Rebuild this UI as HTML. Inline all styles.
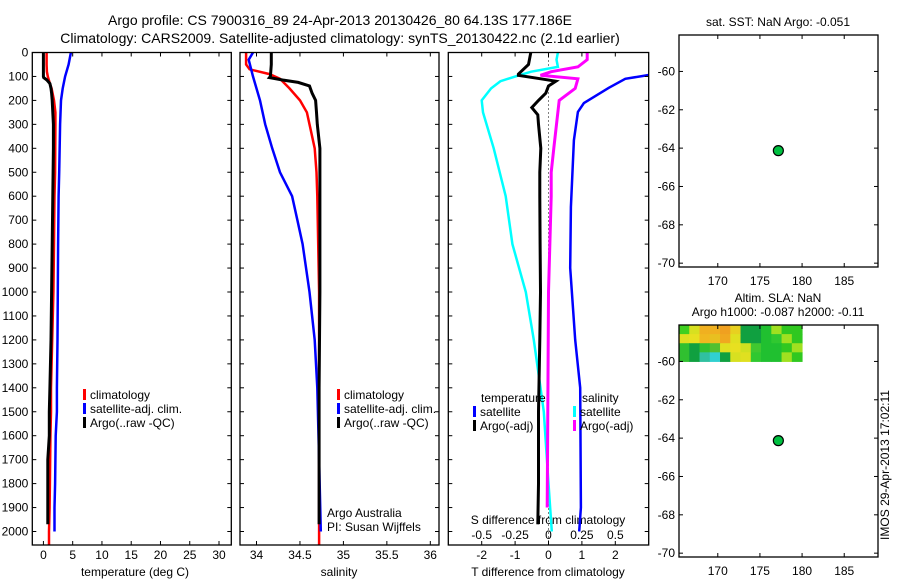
<!DOCTYPE html>
<html><head><meta charset="utf-8">
<style>
html,body{margin:0;padding:0;background:#fff;}
svg{display:block;font-family:"Liberation Sans",sans-serif;}
text{fill:#000;}
</style></head>
<body>
<svg id="c" width="900" height="580" viewBox="0 0 900 580" xmlns="http://www.w3.org/2000/svg">
<text x="340" y="25" font-size="14" text-anchor="middle">Argo profile: CS 7900316_89 24-Apr-2013 20130426_80 64.13S 177.186E</text>
<text x="340" y="43" font-size="14" text-anchor="middle">Climatology: CARS2009. Satellite-adjusted climatology: synTS_20130422.nc (2.1d earlier)</text>
<text x="135" y="576" font-size="12" text-anchor="middle">temperature (deg C)</text>
<text x="339" y="576" font-size="12" text-anchor="middle">salinity</text>
<text x="548" y="576" font-size="12" text-anchor="middle">T difference from climatology</text>
<text x="548" y="524" font-size="12" text-anchor="middle">S difference from climatology</text>
<text x="327" y="517" font-size="12">Argo Australia</text>
<text x="327" y="531" font-size="12">PI: Susan Wijffels</text>
<text x="778" y="26" font-size="12" text-anchor="middle">sat. SST: NaN Argo: -0.051</text>
<text x="778" y="302" font-size="12" text-anchor="middle">Altim. SLA: NaN</text>
<text x="778" y="316" font-size="12" text-anchor="middle">Argo h1000: -0.087 h2000: -0.11</text>
<text transform="translate(889,465) rotate(-90)" font-size="12" text-anchor="middle">IMOS 29-Apr-2013 17:02:11</text>
</svg>
<script>
// ---- data ----
const depthTicks=[0,100,200,300,400,500,600,700,800,900,1000,1100,1200,1300,1400,1500,1600,1700,1800,1900,2000];
const tTicks=[0,5,10,15,20,25,30];
const sTicks=[34,34.5,35,35.5,36];
const sTickLabels=["34","34.5","35","35.5","36"];
const dTTicks=[-2,-1,0,1,2];
const dSTicks=[-0.5,-0.25,0,0.25,0.5];
const dSTickLabels=["-0.5","-0.25","0","0.25","0.5"];
const lonTicks=[170,175,180,185];
const latTicks=[-60,-62,-64,-66,-68,-70];

const argoTDepth=[0,50,100,105,115,130,150,170,200,300,400,600,800,1000,1200,1400,1500,1600,1700,1800,1900,1970];
const argoT=[0,0,0,0.05,0.6,1.1,1.3,1.4,1.5,1.7,1.7,1.6,1.5,1.4,1.3,1.1,1.0,1.0,0.75,0.75,0.75,0.75];
const climTDepth=[0,50,80,100,130,150,200,250,300,500,600,800,1000,1200,1400,1500,1600,1800,1900,2000,2056];
const climT=[0.55,0.55,0.6,0.75,1.1,1.4,1.8,2.05,2.05,2.0,1.9,1.8,1.7,1.5,1.3,1.3,1.2,1.1,1.05,0.95,0.95];
const satTDepth=[0,50,100,150,200,300,500,600,800,1000,1200,1400,1500,1600,1800,1900,2000];
const satT=[4.7,4.3,3.7,3.3,3.0,2.85,2.7,2.6,2.5,2.45,2.4,2.3,2.3,2.1,2.0,1.9,1.9];

const argoSDepth=[0,50,100,105,115,125,140,170,200,250,300,400,600,800,1000,1400,1800,1970];
const argoS=[34.17,34.17,34.16,34.15,34.3,34.48,34.61,34.64,34.68,34.69,34.7,34.73,34.73,34.73,34.73,34.72,34.72,34.72];
const climSDepth=[0,50,70,90,110,150,200,250,300,400,500,600,800,1000,1400,2000,2056];
const climS=[33.88,33.88,33.92,34.15,34.27,34.38,34.5,34.58,34.61,34.67,34.69,34.7,34.71,34.72,34.72,34.72,34.72];
const satSDepth=[0,30,100,200,300,400,500,600,700,800,1000,1200,1400,1700,2000];
const satS=[33.96,33.91,33.96,34.04,34.1,34.18,34.27,34.41,34.47,34.53,34.61,34.67,34.7,34.72,34.74];

const dArgoTDepth=[0,50,90,95,110,120,140,170,200,230,260,300,400,500,600,800,1000,1200,1500,1800,1970];
const dArgoT=[-0.53,-0.6,-0.9,-0.9,-0.23,0.22,0,-0.08,-0.3,-0.5,-0.32,-0.3,-0.23,-0.26,-0.26,-0.25,-0.24,-0.26,-0.3,-0.3,-0.32];
const dSatTDepth=[60,94,110,148,211,248,366,645,900,1200,1400,1900,2000];
const dSatT=[3.6,3.0,2.3,1.8,1.06,0.88,0.76,0.67,0.65,0.8,0.95,0.97,0.92];
const dArgoSDepth=[0,30,60,80,95,110,150,200,300,400,500,600,1000,1500,1900];
const dArgoS=[0.29,0.29,0.22,0.02,-0.06,0.22,0.2,0.08,0.06,0.04,0.02,0.02,0.0,-0.005,-0.01];
const dSatSDepth=[0,30,60,80,95,120,150,200,250,400,600,800,1000,1200,1400,1500,1800,2000];
const dSatS=[0.07,0.06,0.07,-0.13,-0.22,-0.36,-0.43,-0.5,-0.49,-0.41,-0.32,-0.27,-0.17,-0.11,-0.06,-0.035,0.0,0.025];

const floatLon=[177.186];
const floatLat=[-64.13];
const slaRows=[
 ["#40d020","#d8e020","#f0b020","#f0b020","#f0a020","#e8d020","#10a040","#10a040","#20c030","#a0e020","#30c820","#30c820"],
 ["#e0e020","#e8e020","#f0b820","#e8c020","#f0a820","#e0e020","#10a040","#10a040","#20c030","#30c830","#a0e020","#30c820"],
 ["#30c030","#10a040","#30c030","#50c030","#e0e020","#e8e020","#d0e020","#40c830","#20c030","#20c030","#30c820","#a0e020"],
 ["#30c030","#10a040","#30c0a0","#30d0d0","#10a040","#d8e020","#e0e020","#30c830","#20c030","#20c030","#a0e020","#30c820"]
];
const slaLonRange=[165.4,180];
const slaLatRange=[-58.1,-60];

// ---- drawing ----
const svg=document.getElementById('c');
const NS='http://www.w3.org/2000/svg';
function mk(tag,attrs,parent){const e=document.createElementNS(NS,tag);for(const k in attrs)e.setAttribute(k,attrs[k]);(parent||svg).appendChild(e);return e;}
const top0=52.5,bot0=545,dMax=(545-52.5)/0.2395;
const yD=d=>top0+d*0.2395;

function panel(x0,x1,xmin,xmax,name){
  const g=mk('g',{});
  
  
  const xs=v=>x0+(v-xmin)/(xmax-xmin)*(x1-x0);
  return {g,xs};
}
function frame(g,x0,y0,x1,y1,name){
  const r=mk('rect',{x:x0,y:y0,width:x1-x0,height:y1-y0,fill:'none',stroke:'#000','stroke-width':1.3},g);
  
  
}
function line(g,depths,vals,xs,color,w,name,clip){
  const pts=depths.map((d,i)=>xs(vals[i]).toFixed(1)+','+yD(d).toFixed(1)).join(' ');
  const p=mk('polyline',{points:pts,fill:'none',stroke:color,'stroke-width':w,'stroke-linejoin':'miter'},g);
  if(clip)p.setAttribute('clip-path','url(#'+clip+')');
  
  
}
function depthAxis(g,x0,x1,labels){
  depthTicks.forEach(d=>{
    const y=yD(d);
    mk('line',{x1:x0,y1:y,x2:x0+4,y2:y,stroke:'#000'},g);
    mk('line',{x1:x1-4,y1:y,x2:x1,y2:y,stroke:'#000'},g);
    if(labels){const t=mk('text',{x:x0-4,y:y+4,'font-size':12,'text-anchor':'end'},g);t.textContent=d;
      
      }
  });
}
function xAxis(g,ticks,labels,xs,yBot,yTop,ly){
  ticks.forEach((v,i)=>{
    const x=xs(v);
    mk('line',{x1:x,y1:yBot,x2:x,y2:yBot-4,stroke:'#000'},g);
    mk('line',{x1:x,y1:yTop,x2:x,y2:yTop+4,stroke:'#000'},g);
    if(labels){const t=mk('text',{x:x,y:ly,'font-size':12,'text-anchor':'middle'},g);t.textContent=labels[i];
      
      }
  });
}
function legend(g,x,y,color,label){
  mk('rect',{x:x,y:y-9,width:3,height:11,fill:color},g);
  const t=mk('text',{x:x+7,y:y+1,'font-size':12},g);t.textContent=label;
  
  
}
const defs=mk('defs',{});
function clipRect(id,x0,y0,x1,y1){const c=mk('clipPath',{id:id},defs);mk('rect',{x:x0,y:y0,width:x1-x0,height:y1-y0},c);}

// Panel 1 temperature
{const x0=32.3,x1=231.3;const P=panel(x0,x1,-1.9,32.1,'temperature-panel');clipRect('c1',x0,top0,x1,bot0);
 line(P.g,climTDepth,climT,P.xs,'#ff0000',2.5,'climatology-temperature-line','c1');
 line(P.g,satTDepth,satT,P.xs,'#0000ff',2.5,'satellite-temperature-line','c1');
 line(P.g,argoTDepth,argoT,P.xs,'#000',3,'argo-temperature-line','c1');
 frame(P.g,x0,top0,x1,bot0,'temperature-plot-frame');
 depthAxis(P.g,x0,x1,true);
 xAxis(P.g,tTicks,tTicks.map(String),P.xs,bot0,top0,559);
 legend(P.g,83,398,'#ff0000','climatology');legend(P.g,83,412,'#0000ff','satellite-adj. clim.');legend(P.g,83,426,'#000','Argo(..raw -QC)');}
// Panel 2 salinity
{const x0=240,x1=439;const P=panel(x0,x1,33.81,36.1,'salinity-panel');clipRect('c2',x0,top0,x1,bot0);
 line(P.g,climSDepth,climS,P.xs,'#ff0000',2.5,'climatology-salinity-line','c2');
 line(P.g,satSDepth,satS,P.xs,'#0000ff',2.5,'satellite-salinity-line','c2');
 line(P.g,argoSDepth,argoS,P.xs,'#000',3,'argo-salinity-line','c2');
 frame(P.g,x0,top0,x1,bot0,'salinity-plot-frame');
 depthAxis(P.g,x0,x1,false);
 xAxis(P.g,sTicks,sTickLabels,P.xs,bot0,top0,559);
 legend(P.g,337,398,'#ff0000','climatology');legend(P.g,337,412,'#0000ff','satellite-adj. clim.');legend(P.g,337,426,'#000','Argo(..raw -QC)');}
// Panel 3 differences
{const x0=448.3,x1=648.7;const P=panel(x0,x1,-3,3,'difference-panel');clipRect('c3',x0,top0,x1,bot0);
 const xsS=v=>P.xs(v*4);
 mk('line',{x1:P.xs(0),y1:top0,x2:P.xs(0),y2:bot0,stroke:'#000','stroke-dasharray':'1,3'},P.g);
 line(P.g,dSatSDepth,dSatS,xsS,'#00ffff',2.5,'satellite-salinity-diff-line','c3');
 line(P.g,dSatTDepth,dSatT,P.xs,'#0000ff',2.5,'satellite-temperature-diff-line','c3');
 line(P.g,dArgoSDepth,dArgoS,xsS,'#ff00ff',3,'argo-salinity-diff-line','c3');
 line(P.g,dArgoTDepth,dArgoT,P.xs,'#000',3,'argo-temperature-diff-line','c3');
 frame(P.g,x0,top0,x1,bot0,'difference-plot-frame');
 depthAxis(P.g,x0,x1,false);
 xAxis(P.g,dTTicks,dTTicks.map(String),P.xs,bot0,top0,559);
 dSTicks.forEach((v,i)=>{const t=mk('text',{x:xsS(v),y:539,'font-size':12,'text-anchor':'middle'},P.g);t.textContent=dSTickLabels[i];
   
   });
 let t=mk('text',{x:481,y:402,'font-size':12},P.g);t.textContent='temperature';
 
 
 t=mk('text',{x:582,y:402,'font-size':12},P.g);t.textContent='salinity';
 
 
 legend(P.g,473,415,'#0000ff','satellite');legend(P.g,473,429,'#000','Argo(-adj)');
 legend(P.g,573,415,'#00ffff','satellite');legend(P.g,573,429,'#ff00ff','Argo(-adj)');}

// Maps
function map(y0,y1,name,sla){
  const x0=679,x1=878;const g=mk('g',{});
  
  
  const lx=v=>x0+(v-165.4)*8.43;
  const latTop=-58.1,latBot=-70.2;
  const ly=v=>y0+(latTop-v)/(latTop-latBot)*(y1-y0);
  if(sla){
    const nr=slaRows.length,nc=slaRows[0].length;
    const cx0=lx(slaLonRange[0]),cx1=lx(slaLonRange[1]),cy0=ly(slaLatRange[0]),cy1=ly(slaLatRange[1]);
    const w=(cx1-cx0)/nc,h=(cy1-cy0)/nr;
    slaRows.forEach((row,r)=>row.forEach((col,c)=>{
      const cell=mk('rect',{x:cx0+c*w,y:cy0+r*h,width:w+0.5,height:h+0.5,fill:col},g);
      
      
    }));
  }
  frame(g,x0,y0,x1,y1,name+'-frame');
  lonTicks.forEach(v=>{const x=lx(v);
    mk('line',{x1:x,y1:y0,x2:x,y2:y0+4,stroke:'#000'},g);mk('line',{x1:x,y1:y1,x2:x,y2:y1-4,stroke:'#000'},g);
    const t=mk('text',{x:x,y:y1+18,'font-size':12,'text-anchor':'middle'},g);t.textContent=v;
    
    });
  latTicks.forEach(v=>{const y=ly(v);
    mk('line',{x1:x0,y1:y,x2:x0+4,y2:y,stroke:'#000'},g);mk('line',{x1:x1,y1:y,x2:x1-4,y2:y,stroke:'#000'},g);
    const t=mk('text',{x:x0-4,y:y+4,'font-size':12,'text-anchor':'end'},g);t.textContent=v;
    
    });
  floatLon.forEach((lo,i)=>{
    const dot=mk('circle',{cx:lx(lo),cy:ly(floatLat[i]),r:5,fill:'#00c040',stroke:'#000','stroke-width':1.2},g);
    
    
  });
}
map(35,267,'sst-map',false);
map(325,557,'sla-map',true);
</script>
</body></html>
